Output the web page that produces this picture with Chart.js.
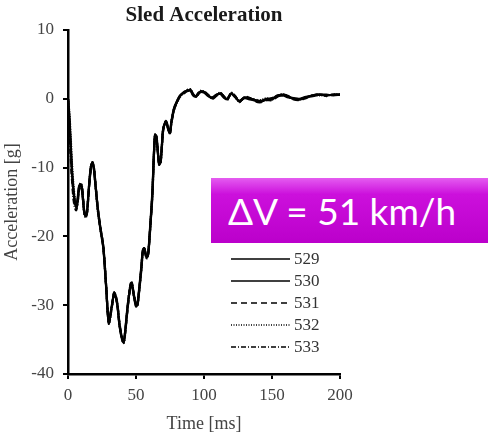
<!DOCTYPE html>
<html>
<head>
<meta charset="utf-8">
<script src="https://cdn.jsdelivr.net/npm/chart.js@4.4.1/dist/chart.umd.min.js"></script>
<style>
  body { margin: 0; background: #fff; }
  #wrap { position: relative; width: 488px; height: 439px; }
  #dv {
    position: absolute; left: 211px; top: 178px; width: 277px; height: 65px;
    background: linear-gradient(to bottom, #e45cf0 0%, #cc10dc 25%, #bb00cb 100%);
    color: #fff; font-family: Lato, "Noto Sans", sans-serif; font-size: 37px;
    line-height: 65px; padding-left: 17px; box-sizing: border-box; white-space: nowrap;
  }
</style>
</head>
<body>
<div id="wrap">
  <canvas id="chart" width="488" height="439"></canvas>
  <div id="dv">ΔV = 51 km/h</div>
</div>
<script>
// time in ms, acceleration in g
const timeMs = [
  0, 1, 2, 3, 4, 5, 6, 7, 8, 9,
  10, 11, 12, 13, 14, 15, 16, 17, 18, 19,
  20, 22, 24, 26, 28, 30, 32, 34, 36, 38,
  40, 41, 42, 44, 46, 47, 48, 50, 51, 52,
  54, 55, 56, 57, 58, 59, 60, 62, 63, 64,
  65, 66, 67, 68, 69, 70, 72, 74, 75, 76,
  78, 80, 82, 84, 86, 88, 90, 92, 94, 96,
  98, 100, 103, 106, 109, 112, 115, 117, 120, 123,
  126, 130, 134, 138, 142, 146, 150, 154, 158, 162,
  166, 170, 175, 180, 185, 190, 195, 200
];
const s529 = [
  0, -3, -7, -11, -13.5, -15, -15.8, -15, -13, -12.4,
  -12.6, -14.5, -16.5, -17.1, -16.5, -14, -11.5, -9.8, -9.3, -10,
  -12, -16, -19, -21.5, -27, -32.5, -30.5, -28.2, -29.5, -33,
  -35, -35.3, -34, -30, -27, -26.8, -28, -30, -30, -28.5,
  -24.5, -22.2, -21.7, -22.5, -23, -22.5, -20, -14, -9, -5.3,
  -5.5, -7.5, -9.4, -9.3, -7, -4.5, -3.3, -4.5, -5, -3.5,
  -1.5, -0.5, 0.3, 0.7, 1, 1.2, 1.3, 0.6, 0.3, 0.8,
  1.1, 1, 0.5, 0.1, 0.5, 0.8, 0.2, -0.1, 0.8, 0.3,
  -0.4, 0.2, 0, -0.3, -0.4, -0.1, -0.1, 0.4, 0.6, 0.3,
  0, -0.1, 0.2, 0.5, 0.6, 0.5, 0.6, 0.6
];
const s530 = [
  0, -2.5, -6.5, -10.5, -13, -14.8, -15.5, -14.6, -12.8, -12.5,
  -12.8, -14.7, -16.6, -17, -16.3, -13.8, -11.3, -9.7, -9.4, -10.2,
  -12.2, -16.2, -19.2, -21.8, -27.3, -32.6, -30.3, -28.4, -29.7, -33.2,
  -35.2, -35.4, -33.8, -29.8, -27.2, -27, -28.2, -30.2, -29.8, -28.2,
  -24.2, -22, -21.8, -22.7, -23.1, -22.3, -19.7, -13.6, -8.7, -5.2,
  -5.7, -7.7, -9.6, -9.1, -6.8, -4.3, -3.4, -4.7, -4.9, -3.3,
  -1.3, -0.4, 0.4, 0.8, 1.1, 1.1, 1.2, 0.5, 0.4, 0.9,
  1, 0.9, 0.4, 0.2, 0.6, 0.7, 0.1, 0, 0.7, 0.2,
  -0.3, 0.1, -0.1, -0.2, -0.3, 0, 0, 0.5, 0.5, 0.2,
  0.1, 0, 0.3, 0.4, 0.6, 0.6, 0.5, 0.6
];
const s531 = [
  0, -3.5, -7.5, -11.5, -14, -15.5, -16, -15.2, -13.3, -12.6,
  -12.5, -14.3, -16.4, -17.2, -16.6, -14.2, -11.7, -9.9, -9.2, -9.9,
  -11.9, -16.1, -18.9, -21.4, -27.1, -32.4, -30.6, -28.1, -29.4, -32.8,
  -34.9, -35.2, -34.1, -30.2, -26.9, -26.7, -27.9, -29.9, -30.1, -28.6,
  -24.7, -22.3, -21.6, -22.4, -22.9, -22.6, -20.2, -14.3, -9.2, -5.4,
  -5.4, -7.3, -9.3, -9.4, -7.2, -4.6, -3.2, -4.4, -5.1, -3.6,
  -1.6, -0.6, 0.2, 0.6, 0.9, 1.3, 1.3, 0.7, 0.2, 0.7,
  1.1, 1.1, 0.6, 0, 0.4, 0.8, 0.3, -0.2, 0.8, 0.4,
  -0.5, 0.3, 0.1, -0.4, -0.5, -0.2, -0.2, 0.3, 0.6, 0.4,
  -0.1, -0.2, 0.1, 0.5, 0.7, 0.4, 0.6, 0.7
];
const s532 = [
  0, -2, -5.5, -9.5, -12.5, -14.5, -15.6, -15, -13.2, -12.3,
  -12.4, -14.4, -16.7, -17.3, -16.4, -13.9, -11.4, -9.6, -9.2, -10.1,
  -12.1, -16.4, -19.1, -21.7, -27.2, -32.7, -30.7, -28.3, -29.6, -33.1,
  -35.1, -35.5, -34.2, -29.9, -26.9, -26.9, -28.1, -30.1, -29.9, -28.4,
  -24.4, -22.1, -21.7, -22.6, -23.2, -22.4, -19.9, -13.9, -8.9, -5.2,
  -5.6, -7.6, -9.5, -9.2, -6.9, -4.4, -3.3, -4.6, -5, -3.4,
  -1.4, -0.5, 0.3, 0.7, 1, 1.2, 1.4, 0.6, 0.3, 0.8,
  1.2, 1, 0.5, 0.1, 0.5, 0.9, 0.2, -0.1, 0.9, 0.3,
  -0.4, 0.2, 0, -0.3, -0.2, 0.1, -0.1, 0.4, 0.7, 0.3,
  0, -0.1, 0.2, 0.5, 0.5, 0.5, 0.6, 0.6
];
const s533 = [
  0, -4, -8.5, -12, -14.5, -15.8, -16.2, -15.3, -13.5, -12.8,
  -12.7, -14.6, -16.5, -17, -16.5, -14.1, -11.6, -9.8, -9.3, -10,
  -12, -16.3, -19, -21.6, -27, -32.5, -30.4, -28.2, -29.5, -33,
  -35, -35.3, -33.9, -30.1, -27.1, -26.8, -28, -30, -30, -28.5,
  -24.5, -22.2, -21.7, -22.5, -23, -22.5, -20.1, -14.1, -9.1, -5.3,
  -5.5, -7.5, -9.4, -9.3, -7.1, -4.5, -3.3, -4.5, -5, -3.5,
  -1.5, -0.5, 0.3, 0.7, 1, 1.2, 1.3, 0.6, 0.3, 0.8,
  1, 1, 0.5, 0.1, 0.5, 0.8, 0.2, -0.1, 0.8, 0.3,
  -0.3, 0.2, 0, -0.1, -0.4, -0.1, 0.1, 0.4, 0.5, 0.3,
  0, -0.1, 0.2, 0.5, 0.6, 0.5, 0.6, 0.6
];
const seriesNames = ['529', '530', '531', '532', '533'];
const seriesValues = [s529, s530, s531, s532, s533];
const seriesDash = [[], [], [6, 4], [1, 1.5], [5, 2, 1, 2]];
const xTicks = [0, 50, 100, 150, 200];
const yTicks = [10, 0, -10, -20, -30, -40];

const serif = '"Liberation Serif", "DejaVu Serif", serif';

const sets = seriesNames.map((name, i) => ({
  label: name,
  data: timeMs.map((t, k) => ({ x: t, y: seriesValues[i][k] })),
  borderColor: '#000',
  borderWidth: 2.2,
  borderDash: seriesDash[i],
  pointRadius: 0,
  tension: 0.3,
  fill: false
}));

// title and legend drawn at their spots in the figure
const extras = {
  id: 'extras',
  afterDraw(chart) {
    const ctx = chart.ctx;
    const area = chart.chartArea;
    ctx.save();
    ctx.fillStyle = '#1a1a1a';
    ctx.font = 'bold 21px ' + serif;
    ctx.textAlign = 'center';
    ctx.textBaseline = 'middle';
    ctx.fillText('Sled Acceleration', (area.left + area.right) / 2, 16);

    ctx.font = '17px ' + serif;
    ctx.textAlign = 'left';
    chart.data.datasets.forEach((ds, i) => {
      const y = 259 + i * 22;
      ctx.strokeStyle = '#000';
      ctx.lineWidth = 1.5;
      ctx.setLineDash(ds.borderDash);
      ctx.beginPath();
      ctx.moveTo(231, y);
      ctx.lineTo(290, y);
      ctx.stroke();
      ctx.setLineDash([]);
      ctx.fillStyle = '#333';
      ctx.fillText(ds.label, 294, y + 1);
    });
    ctx.restore();
  }
};

new Chart(document.getElementById('chart'), {
  type: 'line',
  data: { datasets: sets },
  options: {
    responsive: false,
    animation: false,
    layout: { padding: { top: 30, right: 148, left: 0, bottom: 0 } },
    plugins: { legend: { display: false }, tooltip: { enabled: false } },
    scales: {
      x: {
        type: 'linear',
        min: 0,
        max: 200,
        afterBuildTicks: (s) => { s.ticks = xTicks.map(v => ({ value: v })); },
        afterFit: (s) => { s.height = 65; },
        grid: { drawOnChartArea: false, drawTicks: true, tickLength: 5, color: '#000', lineWidth: 2 },
        border: { color: '#000', width: 2.5 },
        ticks: { color: '#444', font: { family: serif, size: 17 }, padding: 6, maxRotation: 0 },
        title: { display: true, text: 'Time [ms]', color: '#444', font: { family: serif, size: 18 }, padding: { top: 0, bottom: 4 } }
      },
      y: {
        min: -40,
        max: 10,
        afterBuildTicks: (s) => { s.ticks = yTicks.map(v => ({ value: v })); },
        afterFit: (s) => { s.width = 68; },
        grid: { drawOnChartArea: false, drawTicks: true, tickLength: 5, color: '#000', lineWidth: 2 },
        border: { color: '#000', width: 2.5 },
        ticks: { color: '#444', font: { family: serif, size: 17 }, padding: 9 },
        title: { display: true, text: 'Acceleration [g]', color: '#444', font: { family: serif, size: 18 }, padding: { top: 1, bottom: 0 } }
      }
    }
  },
  plugins: [extras]
});
</script>
</body>
</html>
